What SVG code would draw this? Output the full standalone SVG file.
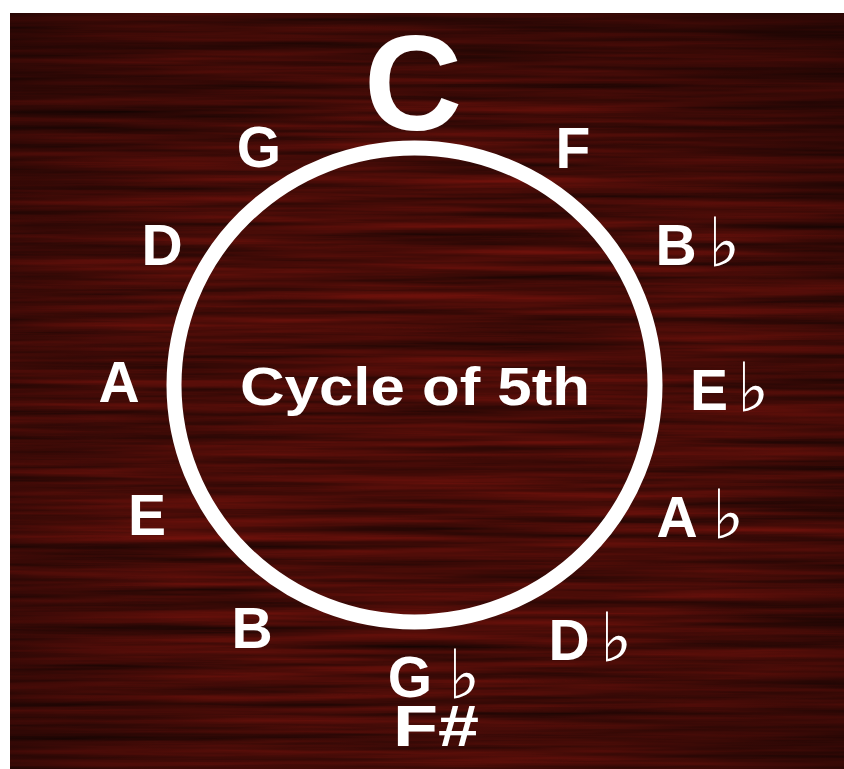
<svg xmlns="http://www.w3.org/2000/svg" width="844" height="769" viewBox="0 0 844 769">
<defs>
<style>
.lbl{font-family:"Liberation Sans",Arial,sans-serif;font-weight:bold;fill:#fff;}
.n{font-size:57px;text-anchor:middle;}
.flat{font-family:"DejaVu Sans",sans-serif;font-weight:normal;font-size:68px;fill:#fff;}
</style>
<filter id="wood" x="0" y="0" width="100%" height="100%" color-interpolation-filters="sRGB">
<feTurbulence type="fractalNoise" baseFrequency="0.003 0.12" numOctaves="4" seed="7" result="n"/>
<feColorMatrix in="n" type="matrix" values="0.42 0 0 0 0.07  0.06 0 0 0 0.015  0.04 0 0 0 0.008  0 0 0 0 1"/>
</filter>
<radialGradient id="vig" cx="50%" cy="55%" r="72%">
<stop offset="0.5" stop-color="#000" stop-opacity="0"/>
<stop offset="1" stop-color="#000" stop-opacity="0.4"/>
</radialGradient>
</defs>
<rect width="844" height="769" fill="#fff"/>
<g id="background">
<rect x="10" y="13" width="834" height="756" filter="url(#wood)"/>
<rect x="10" y="13" width="834" height="756" fill="url(#vig)"/>
</g>
<g id="connectors">
<ellipse id="cycle" cx="414.5" cy="385" rx="240.5" ry="237" fill="none" stroke="#fff" stroke-width="15"/>
</g>
<g id="title"><text class="lbl" x="240" y="405" font-size="54" textLength="350" lengthAdjust="spacingAndGlyphs">Cycle of 5th</text></g>
<g id="node-C"><text class="lbl" x="413" y="130" font-size="136" text-anchor="middle">C</text></g>
<g id="node-G"><text class="lbl n" x="259" y="167">G</text></g>
<g id="node-F"><text class="lbl n" x="573" y="168">F</text></g>
<g id="node-D"><text class="lbl n" x="162" y="265">D</text></g>
<g id="node-Bb"><text class="lbl n" x="676" y="265">B</text><text class="flat" x="708" y="266">♭</text></g>
<g id="node-A"><text class="lbl n" x="119" y="402">A</text></g>
<g id="node-Eb"><text class="lbl n" x="709" y="410">E</text><text class="flat" x="737" y="411">♭</text></g>
<g id="node-E"><text class="lbl n" x="147" y="535">E</text></g>
<g id="node-Ab"><text class="lbl n" x="677" y="537">A</text><text class="flat" x="712" y="538">♭</text></g>
<g id="node-B"><text class="lbl n" x="252" y="648">B</text></g>
<g id="node-Db"><text class="lbl n" x="569" y="660">D</text><text class="flat" x="600" y="661">♭</text></g>
<g id="node-Gb"><text class="lbl n" x="410" y="697">G</text><text class="flat" x="448" y="698">♭</text></g>
<g id="node-Fs"><text class="lbl" x="393" y="746" font-size="58" textLength="86" lengthAdjust="spacingAndGlyphs">F#</text></g>
</svg>
